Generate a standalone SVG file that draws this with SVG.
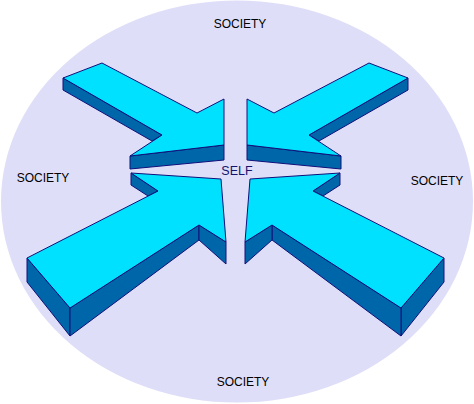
<svg xmlns="http://www.w3.org/2000/svg" width="474" height="404" viewBox="0 0 474 404">
<style>
.face{fill:#00E1FF;stroke:#10107A;stroke-width:1;stroke-linejoin:round}
.side{fill:#0066AA;stroke:#10107A;stroke-width:1;stroke-linejoin:round}
.lbl{font-family:"Liberation Sans",Arial,sans-serif;font-size:12px;fill:#000;text-anchor:middle}
.self{font-family:"Liberation Sans",Arial,sans-serif;font-size:12.5px;fill:#14146E;text-anchor:middle}
</style>
<rect width="474" height="404" fill="#FFFFFF"/>
<g id="society-area">
<ellipse cx="237" cy="201.5" rx="236" ry="201" fill="#DEDEF8"/>
</g>
<g id="arrows">
<g id="arrow-top-left">
<polygon class="side" points="63,78 162,135 152,141 63,90"/>
<polygon class="side" points="130,156 224,145 224,160 130,169"/>
<polygon class="face" points="63,78 102,63 197,113 224,99 224,145 130,156 162,135"/>
</g>
<g id="arrow-top-right">
<polygon class="side" points="408,78 309,135 319,141 408,90"/>
<polygon class="side" points="341,156 247,145 247,160 341,169"/>
<polygon class="face" points="408,78 369,63 274,113 247,99 247,145 341,156 309,135"/>
</g>
<g id="arrow-bottom-left">
<polygon class="side" points="131,173 158,191 148,196 131,185"/>
<polygon class="side" points="27,258 70,308 70,336 27,282"/>
<polygon class="side" points="70,308 199,225 199,240 70,336"/>
<polygon class="side" points="199,225 226,242 226,264 199,240"/>
<polygon class="face" points="131,173 221,179 226,242 199,225 70,308 27,258 158,191"/>
</g>
<g id="arrow-bottom-right">
<polygon class="side" points="340,173 313,191 323,196 340,185"/>
<polygon class="side" points="444,258 401,308 401,336 444,282"/>
<polygon class="side" points="401,308 272,225 272,240 401,336"/>
<polygon class="side" points="272,225 245,242 245,264 272,240"/>
<polygon class="face" points="340,173 250,179 245,242 272,225 401,308 444,258 313,191"/>
</g>
</g>
<g id="labels">
<text class="lbl" x="240" y="28">SOCIETY</text>
<text class="lbl" x="43" y="182">SOCIETY</text>
<text class="lbl" x="437" y="185">SOCIETY</text>
<text class="lbl" x="243" y="386">SOCIETY</text>
<text id="self" class="self" x="237" y="175">SELF</text>
</g>
</svg>
